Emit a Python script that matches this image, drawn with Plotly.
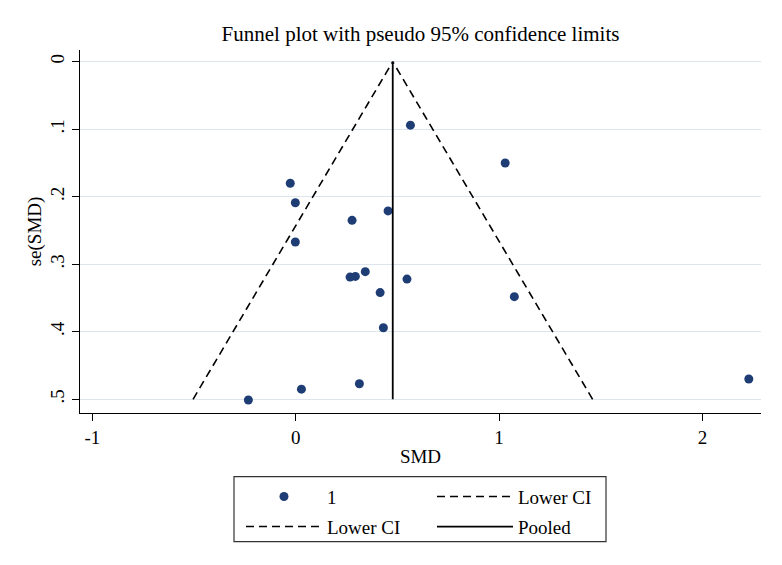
import plotly.graph_objects as go

# Study-level data
smd = [0.564, 1.030, -0.027, -0.002, 0.454, 0.277, -0.002, 0.267, 0.293,
       0.342, 0.547, 0.415, 1.075, 0.431, 0.313, 0.028, -0.233, 2.228]
se_smd = [0.094, 0.150, 0.180, 0.209, 0.221, 0.235, 0.267, 0.319, 0.318,
          0.311, 0.322, 0.342, 0.348, 0.394, 0.477, 0.485, 0.501, 0.470]

# Pseudo 95% confidence limits and pooled estimate
ci_se = [0.5, 0.0]
ci_lower_x = [-0.505, 0.477]
ci_upper_x = [1.460, 0.477]
pooled_x = [0.477, 0.477]
pooled_se = [0.0, 0.5]

x_tickvals = [-1, 0, 1, 2]
x_ticktext = ["-1", "0", "1", "2"]
y_tickvals = [0, 0.1, 0.2, 0.3, 0.4, 0.5]
y_ticktext = ["0", ".1", ".2", ".3", ".4", ".5"]

FONT = "Liberation Serif, Times New Roman, serif"
NAVY = "#1f3d75"

fig = go.Figure()
fig.add_trace(go.Scatter(x=smd, y=se_smd, mode="markers", name="1",
                         marker=dict(color=NAVY, size=9, line=dict(width=0)),
                         legend="legend"))
fig.add_trace(go.Scatter(x=ci_upper_x, y=ci_se, mode="lines", name="Lower CI",
                         line=dict(color="black", width=1.6, dash="8px,5px"),
                         legend="legend"))
fig.add_trace(go.Scatter(x=ci_lower_x, y=ci_se, mode="lines", name="Lower CI",
                         line=dict(color="black", width=1.6, dash="8px,5px"),
                         legend="legend2"))
fig.add_trace(go.Scatter(x=pooled_x, y=pooled_se, mode="lines", name="Pooled",
                         line=dict(color="black", width=1.8),
                         legend="legend2"))

legend_common = dict(orientation="h", xref="paper", yref="paper",
                     xanchor="left", yanchor="middle",
                     font=dict(family=FONT, size=19, color="black"),
                     bgcolor="rgba(0,0,0,0)", borderwidth=0,
                     entrywidth=100, entrywidthmode="pixels",
                     itemwidth=76, traceorder="normal")

fig.update_layout(
    width=782, height=565,
    margin=dict(l=80, r=21, t=50, b=152),
    paper_bgcolor="white", plot_bgcolor="white",
    font=dict(family=FONT, size=19, color="black"),
    title=dict(text="Funnel plot with pseudo 95% confidence limits",
               x=0.5, xref="paper", xanchor="center",
               y=1 - 34 / 565, yref="container", yanchor="middle",
               font=dict(family=FONT, size=21, color="black")),
    xaxis=dict(range=[-1.061, 2.288], tickvals=x_tickvals, ticktext=x_ticktext,
               showgrid=False, zeroline=False, showline=True, linecolor="black",
               linewidth=1.2, ticks="outside", ticklen=7, tickcolor="black",
               tickfont=dict(family=FONT, size=19),
               title=dict(text="SMD", font=dict(family=FONT, size=19), standoff=2)),
    yaxis=dict(range=[0.5203, -0.0173], tickvals=y_tickvals, ticktext=y_ticktext,
               showgrid=True, gridcolor="#dde4ee", gridwidth=1.2, zeroline=False,
               showline=True, linecolor="black", linewidth=1.2,
               ticks="outside", ticklen=7, tickcolor="black", tickangle=-90,
               tickfont=dict(family=FONT, size=19),
               title=dict(text="se(SMD)", font=dict(family=FONT, size=19), standoff=0)),
    legend=dict(x=(241 - 80) / 681, y=(413 - 496.7) / 363, **legend_common),
    legend2=dict(x=(241 - 80) / 681, y=(413 - 526.7) / 363, **legend_common),
    shapes=[dict(type="rect", xref="paper", yref="paper",
                 x0=(234 - 80) / 681, x1=(606 - 80) / 681,
                 y0=(413 - 541.7) / 363, y1=(413 - 476.7) / 363,
                 line=dict(color="#333333", width=1.2), fillcolor="rgba(0,0,0,0)")],
    showlegend=True,
)

fig.write_html("out.html",
               config={"displayModeBar": False},
               post_script="document.body.style.margin='0';document.body.style.padding='0';")
